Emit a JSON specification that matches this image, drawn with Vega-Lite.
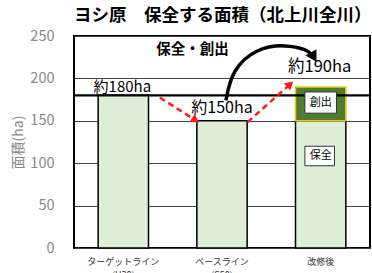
{
  "$schema": "https://vega.github.io/schema/vega-lite/v6.json",
  "width": 296,
  "height": 212,
  "autosize": {"type": "none"},
  "padding": {"left": 74, "top": 36, "right": 2, "bottom": 25},
  "background": "white",
  "config": {
    "view": {"stroke": "black", "strokeWidth": 2},
    "font": "Noto Sans CJK JP"
  },
  "title": {
    "text": "ヨシ原　保全する面積（北上川全川）",
    "anchor": "start",
    "frame": "group",
    "fontSize": 17.5,
    "fontWeight": "bold",
    "color": "#000000",
    "offset": 4,
    "dx": 0
  },
  "datasets": {
    "bars": [
      {"cat": "ターゲットライン\n(H30)", "part": "保全", "y0": 0, "y1": 180},
      {"cat": "ベースライン\n(S50)", "part": "保全", "y0": 0, "y1": 150},
      {"cat": "改修後", "part": "保全", "y0": 0, "y1": 150},
      {"cat": "改修後", "part": "創出", "y0": 150, "y1": 190}
    ],
    "texts": [
      {"t": "約180ha", "v": 0.49, "y": 190, "s": 15},
      {"t": "約150ha", "v": 1.5, "y": 165, "s": 16},
      {"t": "約190ha", "v": 2.49, "y": 213, "s": 16.5},
      {"t": "創出", "v": 2.5, "y": 171.5, "s": 11},
      {"t": "保全", "v": 2.5, "y": 108.5, "s": 11}
    ],
    "boldtexts": [
      {"t": "保全・創出", "v": 1.2, "y": 234}
    ],
    "boxes": [
      {"v1": 2.34, "v2": 2.66, "ya": 159, "yb": 184},
      {"v1": 2.34, "v2": 2.64, "ya": 97, "yb": 120}
    ],
    "redlines": [
      {"id": "a", "o": 0, "v": 0.87, "y": 177.5},
      {"id": "a", "o": 1, "v": 1.22, "y": 151.5},
      {"id": "b", "o": 0, "v": 1.76, "y": 148.5},
      {"id": "b", "o": 1, "v": 2.18, "y": 192}
    ],
    "redheads": [
      {"v": 1.22, "y": 151.5, "a": 123},
      {"v": 2.18, "y": 192, "a": 48}
    ],
    "curve": [
      {"o": 0, "v": 1.54, "y": 174},
      {"o": 1, "v": 1.6, "y": 210},
      {"o": 2, "v": 1.85, "y": 236},
      {"o": 3, "v": 2.15, "y": 240},
      {"o": 4, "v": 2.36, "y": 234},
      {"o": 5, "v": 2.42, "y": 227}
    ],
    "curvehead": [
      {"v": 2.42, "y": 227, "a": 150}
    ]
  },
  "layer": [
    {
      "data": {"name": "bars"},
      "mark": {"type": "bar", "strokeWidth": 1.5},
      "encoding": {
        "x": {
          "field": "cat", "type": "nominal", "sort": null,
          "scale": {"paddingInner": 0.49, "paddingOuter": 0.245},
          "axis": {
            "title": null, "labelAngle": 0, "labelFontSize": 9, "labelColor": "#333333",
            "ticks": false, "domain": false, "labelPadding": 9, "labelLineHeight": 13,
            "labelExpr": "split(datum.label, '\\n')"
          }
        },
        "y": {
          "field": "y1", "type": "quantitative",
          "scale": {"domain": [0, 250], "nice": false},
          "axis": {
            "title": "面積(ha)", "titleColor": "#888888", "titleFontSize": 14, "titleFontWeight": "normal",
            "titlePadding": 4,
            "values": [0, 50, 100, 150, 200, 250],
            "labelColor": "#888888", "labelFontSize": 14.5, "labelPadding": 20,
            "ticks": false, "domain": false,
            "grid": true, "gridColor": "#444444", "gridWidth": 1
          }
        },
        "y2": {"field": "y0"},
        "color": {
          "field": "part", "type": "nominal",
          "scale": {"domain": ["保全", "創出"], "range": ["#dfeed8", "#4f7c30"]},
          "legend": null
        },
        "stroke": {
          "field": "part", "type": "nominal",
          "scale": {"domain": ["保全", "創出"], "range": ["#000000", "#e8c81a"]},
          "legend": null
        }
      }
    },
    {
      "data": {"values": [{"y": 180}]},
      "mark": {"type": "rule", "color": "black", "strokeWidth": 2.2},
      "encoding": {"y": {"field": "y", "type": "quantitative"}}
    },
    {
      "data": {"name": "boxes"},
      "mark": {"type": "rect", "fill": "white", "stroke": "#333333", "strokeWidth": 1},
      "encoding": {
        "x": {"field": "v1", "type": "quantitative", "scale": {"domain": [0, 3], "nice": false}, "axis": null},
        "x2": {"field": "v2"},
        "y": {"field": "ya", "type": "quantitative"},
        "y2": {"field": "yb"}
      }
    },
    {
      "data": {"name": "redlines"},
      "mark": {"type": "line", "color": "#ff1a1a", "strokeWidth": 2.5, "strokeDash": [6, 4]},
      "encoding": {
        "x": {"field": "v", "type": "quantitative", "scale": {"domain": [0, 3], "nice": false}, "axis": null},
        "y": {"field": "y", "type": "quantitative"},
        "detail": {"field": "id"},
        "order": {"field": "o"}
      }
    },
    {
      "data": {"name": "redheads"},
      "mark": {"type": "point", "shape": "triangle", "filled": true, "color": "#ff1a1a", "size": 90, "opacity": 1},
      "encoding": {
        "x": {"field": "v", "type": "quantitative", "scale": {"domain": [0, 3], "nice": false}, "axis": null},
        "y": {"field": "y", "type": "quantitative"},
        "angle": {"field": "a", "type": "quantitative", "scale": null}
      }
    },
    {
      "data": {"name": "curve"},
      "mark": {"type": "line", "color": "black", "strokeWidth": 3.5, "interpolate": "basis"},
      "encoding": {
        "x": {"field": "v", "type": "quantitative", "scale": {"domain": [0, 3], "nice": false}, "axis": null},
        "y": {"field": "y", "type": "quantitative"},
        "order": {"field": "o"}
      }
    },
    {
      "data": {"name": "curvehead"},
      "mark": {"type": "point", "shape": "triangle", "filled": true, "color": "black", "size": 160, "opacity": 1},
      "encoding": {
        "x": {"field": "v", "type": "quantitative", "scale": {"domain": [0, 3], "nice": false}, "axis": null},
        "y": {"field": "y", "type": "quantitative"},
        "angle": {"field": "a", "type": "quantitative", "scale": null}
      }
    },
    {
      "data": {"name": "texts"},
      "mark": {"type": "text", "color": "black", "baseline": "middle", "align": "center"},
      "encoding": {
        "x": {"field": "v", "type": "quantitative", "scale": {"domain": [0, 3], "nice": false}, "axis": null},
        "y": {"field": "y", "type": "quantitative"},
        "text": {"field": "t"},
        "size": {"field": "s", "type": "quantitative", "scale": null}
      }
    },
    {
      "data": {"name": "boldtexts"},
      "mark": {"type": "text", "color": "black", "baseline": "middle", "align": "center", "fontWeight": "bold", "fontSize": 14.5},
      "encoding": {
        "x": {"field": "v", "type": "quantitative", "scale": {"domain": [0, 3], "nice": false}, "axis": null},
        "y": {"field": "y", "type": "quantitative"},
        "text": {"field": "t"}
      }
    }
  ],
  "resolve": {"scale": {"x": "independent"}}
}
